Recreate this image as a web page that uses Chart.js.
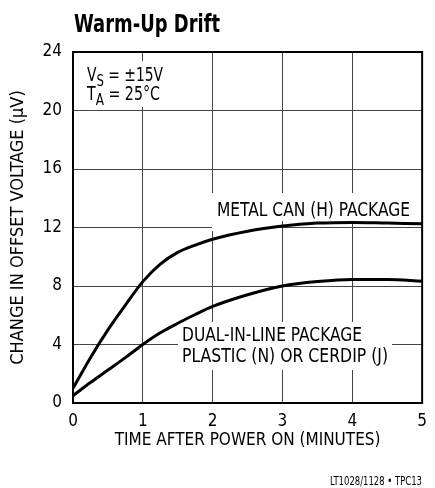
<!DOCTYPE html>
<html>
<head>
<meta charset="utf-8">
<script src="https://cdn.jsdelivr.net/npm/chart.js@4.4.1/dist/chart.umd.min.js"></script>
<style>
  html, body { margin: 0; padding: 0; background: #fff; }
  #wrap { width: 435px; height: 488px; }
</style>
</head>
<body>
<div id="wrap"><canvas id="c" width="435" height="488"></canvas></div>
<script>
// ---- data ----
const timeMinutes = [0, 0.25, 0.5, 0.75, 1, 1.25, 1.5, 1.75, 2, 2.5, 3, 3.5, 4, 4.5, 5];
const metalCanUV  = [1.0, 3.1, 5.0, 6.7, 8.3, 9.5, 10.3, 10.8, 11.2, 11.75, 12.1, 12.3, 12.35, 12.3, 12.25];
const dualInLineUV = [0.5, 1.4, 2.25, 3.1, 4.0, 4.8, 5.45, 6.05, 6.6, 7.4, 8.0, 8.3, 8.45, 8.45, 8.33];
const xTickValues = [0, 1, 2, 3, 4, 5];
const yTickValues = [0, 4, 8, 12, 16, 20, 24];

const chartTitle = 'Warm-Up Drift';
const xAxisTitle = 'TIME AFTER POWER ON (MINUTES)';
const yAxisTitle = 'CHANGE IN OFFSET VOLTAGE (\u00B5V)';
const metalLabel = 'METAL CAN (H) PACKAGE';
const dipLabel1 = 'DUAL-IN-LINE PACKAGE';
const dipLabel2 = 'PLASTIC (N) OR CERDIP (J)';
const footnote = 'LT1028/1128 \u2022 TPC13';

const FAM = "'Liberation Sans Narrow', 'Arial Narrow', 'DejaVu Sans Condensed', sans-serif";
Chart.defaults.font.family = FAM;
Chart.defaults.color = '#000';

const toPts = (xs, ys) => xs.map((x, i) => ({ x: x, y: ys[i] }));

// draw a run of [text, fontSize, dy] pieces, squeezed horizontally to a target width
function drawRun(ctx, pieces, x, y, targetW, weight) {
  let w = 0;
  pieces.forEach(p => { ctx.font = (weight || '') + ' ' + p[1] + 'px ' + FAM; w += ctx.measureText(p[0]).width; });
  const sx = Math.min(1, targetW / w);
  ctx.save();
  ctx.translate(x, y);
  ctx.scale(sx, 1);
  let cx = 0;
  pieces.forEach(p => {
    ctx.font = (weight || '') + ' ' + p[1] + 'px ' + FAM;
    ctx.fillText(p[0], cx, p[2] || 0);
    cx += ctx.measureText(p[0]).width;
  });
  ctx.restore();
}

const annot = {
  id: 'annot',
  beforeDatasetsDraw(chart) {
    const ctx = chart.ctx;
    const a = chart.chartArea;
    ctx.save();
    // white-out boxes behind labels
    ctx.fillStyle = '#fff';
    ctx.fillRect(82, 61, 86, 46);
    ctx.fillRect(212, 193, 200, 28);
    ctx.fillRect(212, 221, 50, 10);
    ctx.fillRect(178, 322, 214, 48);
    // frame
    ctx.strokeStyle = '#000';
    ctx.lineWidth = 2;
    ctx.strokeRect(a.left, a.top, a.right - a.left, a.bottom - a.top);
    // labels
    ctx.fillStyle = '#000';
    ctx.textBaseline = 'alphabetic';
    ctx.textAlign = 'left';
    drawRun(ctx, [['V', 19], ['S', 16, 5], [' = \u00B115V', 19]], 87, 81, 76);
    drawRun(ctx, [['T', 19], ['A', 16, 5], [' = 25\u00B0C', 19]], 87, 100, 73);
    drawRun(ctx, [[metalLabel, 19]], 217, 216, 193);
    drawRun(ctx, [[dipLabel1, 19]], 182, 341, 180);
    drawRun(ctx, [[dipLabel2, 19]], 182, 362, 206);
    ctx.restore();
  },
  afterDraw(chart) {
    const ctx = chart.ctx;
    ctx.save();
    ctx.fillStyle = '#000';
    ctx.textBaseline = 'alphabetic';
    ctx.textAlign = 'left';
    drawRun(ctx, [[chartTitle, 25]], 74, 32, 146, 'bold');
    drawRun(ctx, [[footnote, 11.5]], 330, 485, 92);
    ctx.restore();
  }
};

new Chart(document.getElementById('c'), {
  type: 'line',
  data: {
    datasets: [
      { label: metalLabel, data: toPts(timeMinutes, metalCanUV) },
      { label: dipLabel1, data: toPts(timeMinutes, dualInLineUV) }
    ]
  },
  options: {
    responsive: false,
    animation: false,
    events: [],
    layout: { padding: { top: 52, right: 11, bottom: 0, left: 0 } },
    elements: {
      line: { borderColor: '#000', borderWidth: 3, tension: 0.4, cubicInterpolationMode: 'monotone', fill: false },
      point: { radius: 0 }
    },
    plugins: { legend: { display: false }, tooltip: { enabled: false }, title: { display: false } },
    scales: {
      x: {
        type: 'linear', min: 0, max: 5,
        afterFit(s) { s.height = 85; },
        afterBuildTicks(s) { s.ticks = xTickValues.map(v => ({ value: v })); },
        grid: { color: '#444', lineWidth: 1, drawTicks: false },
        border: { color: '#000', width: 2 },
        ticks: { font: { size: 17 }, color: '#000', padding: 8, maxRotation: 0 },
        title: { display: true, text: xAxisTitle, font: { size: 17 }, color: '#000', padding: { top: 37, bottom: 37 } }
      },
      y: {
        type: 'linear', min: 0, max: 24,
        afterFit(s) { s.width = 73; },
        afterBuildTicks(s) { s.ticks = yTickValues.map(v => ({ value: v })); },
        grid: { color: '#444', lineWidth: 1, drawTicks: false },
        border: { color: '#000', width: 2 },
        ticks: { font: { size: 17 }, color: '#000', padding: 11 },
        title: { display: true, text: yAxisTitle, font: { size: 18 }, color: '#000', padding: { top: 8, bottom: 8 } }
      }
    }
  },
  plugins: [annot]
});
</script>
</body>
</html>
